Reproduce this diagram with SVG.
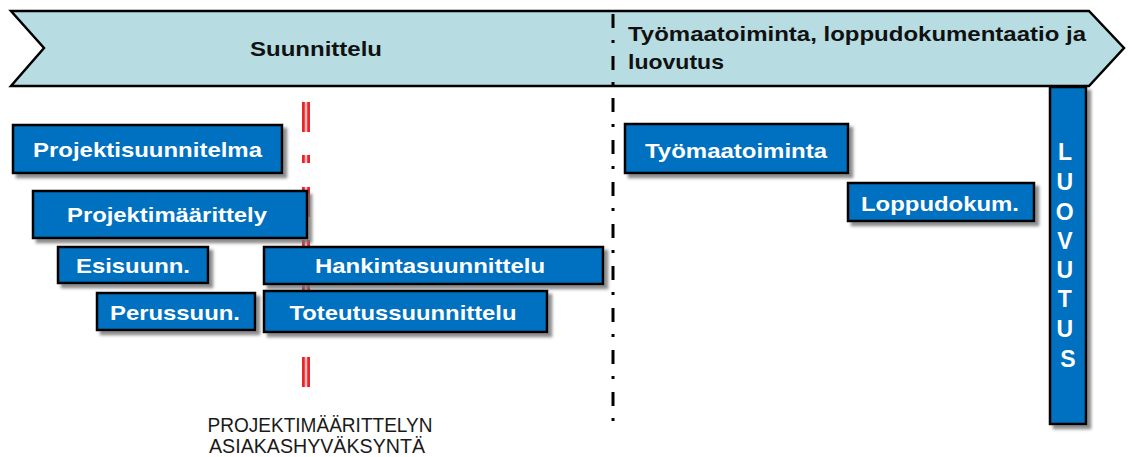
<svg xmlns="http://www.w3.org/2000/svg" width="1134" height="457" viewBox="0 0 1134 457">
<style>
.box{fill:#0070C0;stroke:#000;stroke-width:2.5;filter:url(#sh)}
.bt{font-family:"Liberation Sans",Arial,sans-serif;font-weight:bold;font-size:21px;fill:#fff;text-anchor:middle}
.hd{font-family:"Liberation Sans",Arial,sans-serif;font-weight:bold;font-size:21px;fill:#111}
.ft{font-family:"Liberation Sans",Arial,sans-serif;font-size:20px;fill:#1a1a1a;text-anchor:middle}
</style>
<defs>
<filter id="sh" x="-10%" y="-20%" width="130%" height="150%">
<feDropShadow dx="4" dy="4" stdDeviation="1.5" flood-color="#707070" flood-opacity="0.8"/>
</filter>
</defs>
<rect width="1134" height="457" fill="#fff"/>
<g id="banner">
<polygon points="11,11 1089,11 1124,48 1089,86 11,86 44,48" fill="#B7DDE2" stroke="#000" stroke-width="2.5" stroke-linejoin="miter"/>
<text class="hd" x="316" y="56" text-anchor="middle" textLength="132" lengthAdjust="spacingAndGlyphs">Suunnittelu</text>
<text class="hd" x="628" y="41" textLength="458" lengthAdjust="spacingAndGlyphs">Työmaatoiminta, loppudokumentaatio ja</text>
<text class="hd" x="628" y="69" textLength="96" lengthAdjust="spacingAndGlyphs">luovutus</text>
</g>
<g id="connectors">
<line x1="613" y1="14" x2="613" y2="422" stroke="#000" stroke-width="3" stroke-dasharray="14 12 3 13"/>
<line x1="306" y1="102" x2="306" y2="387" stroke="#E8262A" stroke-width="8" stroke-dasharray="30 23 8 24"/>
<line x1="306" y1="102" x2="306" y2="387" stroke="#FFB8B8" stroke-width="2.5" stroke-dasharray="30 23 8 24"/>
</g>
<g id="projektisuunnitelma">
<rect class="box" x="13" y="125" width="269" height="48"/>
<text class="bt" x="147.5" y="157" textLength="229" lengthAdjust="spacingAndGlyphs">Projektisuunnitelma</text>
</g>
<g id="projektimaarittely">
<rect class="box" x="33" y="191" width="274" height="47"/>
<text class="bt" x="167" y="222" textLength="200" lengthAdjust="spacingAndGlyphs">Projektimäärittely</text>
</g>
<g id="esisuunn">
<rect class="box" x="58" y="247" width="150" height="36"/>
<text class="bt" x="133" y="273" textLength="114" lengthAdjust="spacingAndGlyphs">Esisuunn.</text>
</g>
<g id="perussuun">
<rect class="box" x="97" y="293" width="158" height="37"/>
<text class="bt" x="175" y="320" textLength="130" lengthAdjust="spacingAndGlyphs">Perussuun.</text>
</g>
<g id="hankintasuunnittelu">
<rect class="box" x="264" y="247" width="339" height="37"/>
<text class="bt" x="430" y="273" textLength="230" lengthAdjust="spacingAndGlyphs">Hankintasuunnittelu</text>
</g>
<g id="toteutussuunnittelu">
<rect class="box" x="264" y="291" width="283" height="41"/>
<text class="bt" x="403" y="320" textLength="227" lengthAdjust="spacingAndGlyphs">Toteutussuunnittelu</text>
</g>
<g id="tyomaatoiminta">
<rect class="box" x="625" y="124" width="223" height="49"/>
<text class="bt" x="736" y="158" textLength="182" lengthAdjust="spacingAndGlyphs">Työmaatoiminta</text>
</g>
<g id="loppudokum">
<rect class="box" x="848" y="183" width="186" height="38"/>
<text class="bt" x="940" y="211" textLength="158" lengthAdjust="spacingAndGlyphs">Loppudokum.</text>
</g>
<g id="luovutus">
<rect class="box" x="1050" y="87" width="36" height="337"/>
<text class="bt" style="font-size:23px">
<tspan x="1068" y="160">L</tspan>
<tspan x="1068" y="190">U</tspan>
<tspan x="1068" y="220">O</tspan>
<tspan x="1068" y="249">V</tspan>
<tspan x="1068" y="278">U</tspan>
<tspan x="1068" y="307">T</tspan>
<tspan x="1068" y="337">U</tspan>
<tspan x="1068" y="367">S</tspan>
</text>
</g>
<g id="hyvaksynta">
<text class="ft" x="320" y="432" textLength="225" lengthAdjust="spacingAndGlyphs">PROJEKTIMÄÄRITTELYN</text>
<text class="ft" x="317" y="453" textLength="216" lengthAdjust="spacingAndGlyphs">ASIAKASHYVÄKSYNTÄ</text>
</g>
</svg>
